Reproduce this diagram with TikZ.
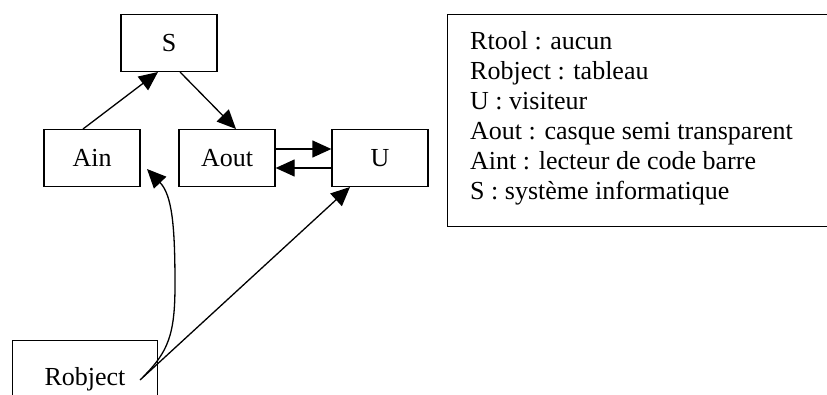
\documentclass[tikz,border=0pt]{standalone}
\usepackage{fontspec}
\setmainfont{Liberation Serif}
\usetikzlibrary{arrows.meta,calc}
\begin{document}
\begin{tikzpicture}[x=1pt,y=-1pt,
  box/.style={draw,line width=1.3pt,minimum width=96pt,minimum height=57pt,inner sep=0pt,font=\fontsize{26pt}{30pt}\selectfont},
  conn/.style={line width=1.3pt,-{Triangle[length=19pt,width=17pt]}}]
\useasboundingbox (0,0) rectangle (827,394);
\node[box] (S) at (169,43) {S};
\node[box] (Ain) at (92,158) {Ain};
\node[box] (Aout) at (227,158) {Aout};
\node[box] (U) at (380,158) {U};
\node[box,minimum width=145pt,minimum height=80pt,anchor=north west] (Rob) at (12,340) {};
\node[font=\fontsize{26pt}{30pt}\selectfont,anchor=base] (Robt) at (85,385) {Robject};
\node[draw,line width=1.3pt,anchor=north west,minimum width=400pt,minimum height=212pt,inner sep=0pt] (leg) at (447,14) {};
\node[anchor=north west,align=left,inner sep=0pt,font=\fontsize{26pt}{30pt}\selectfont] (legt) at (470,31)
{Rtool : aucun\\Robject : tableau\\U : visiteur\\Aout : casque semi transparent\\Aint : lecteur de code barre\\S : système informatique};
\coordinate (r1) at (143,377);
\coordinate (r2) at (140,380);
\coordinate (ainend) at (147,169);
\coordinate (uend) at (350,187);
\coordinate (ainS) at (83,129);
\coordinate (sEnd) at (158,72);
\coordinate (sOut) at (180,72);
\coordinate (aoutIn) at (236,129);
\draw[conn] (ainS) -- (sEnd);
\draw[conn] (sOut) -- (aoutIn);
\draw[conn] (Aout.east |- 0,149) -- (U.west |- 0,149);
\draw[conn] (U.west |- 0,168) -- (Aout.east |- 0,168);
\draw[conn] (r1) .. controls (168,352) and (175,335) .. (175,285) .. controls (175,225) and (172,195) .. (ainend);
\draw[conn] (r2) -- (uend);
\end{tikzpicture}
\end{document}
